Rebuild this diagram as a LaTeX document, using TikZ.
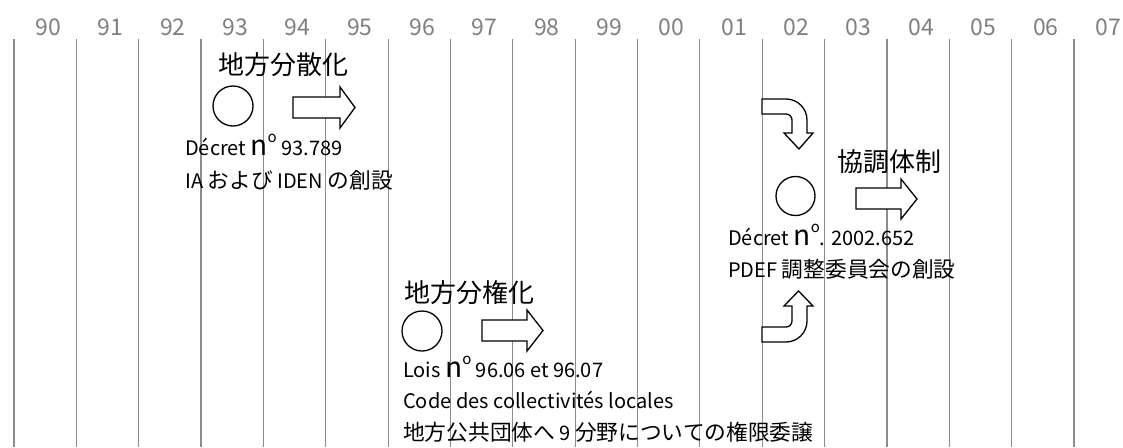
\documentclass[tikz,border=0pt]{standalone}
\usepackage{fontspec}
\setmainfont{Noto Sans CJK JP}
\definecolor{gridgray}{HTML}{8C8C8C}
\definecolor{yeargray}{HTML}{7F7F7F}
\tikzset{
  gridline/.style={draw=gridgray, line width=1.2pt},
  yearlabel/.style={text=yeargray, font=\fontsize{23}{23}\selectfont, anchor=base, inner sep=0pt},
  heading/.style={font=\fontsize{26}{26}\selectfont, anchor=center, inner sep=0pt},
  bodytext/.style={font=\fontsize{20}{20}\selectfont, anchor=base west, inner sep=0pt},
  ring/.style={circle, draw=black, line width=1.3pt, inner sep=0pt},
  blockarrow/.style={draw=black, line width=1.3pt, fill=white, line join=miter},
}
\newcommand{\bign}{{\fontsize{28}{28}\selectfont n}\raisebox{12.5pt}{\fontsize{15}{15}\selectfont o}}
\newcommand{\jp}[1]{{\fontsize{21.7}{21.7}\selectfont #1}}
\begin{document}
\begin{tikzpicture}[x=1pt,y=-1pt]
\useasboundingbox (0,0) rectangle (1123,447);
% grid lines and year labels
\foreach \k in {0,...,17} {
  \coordinate (top\k) at ({14+62.35*\k},39);
  \coordinate (bot\k) at ({14+62.35*\k},447);
  \draw[gridline] (top\k) -- (bot\k);
}
\foreach \lab [count=\k from 0] in {90,91,92,93,94,95,96,97,98,99,00,01,02,03,04,05,06,07} {
  \node[yearlabel] (y\k) at ({14+62.35*(\k+0.5)+3},35) {\lab};
}
% section 1
\node[heading] (h1) at (283,65) {地方分散化};
\node[ring, minimum size=40pt] (c1) at (233,106) {};
\draw[blockarrow] (293,97) -- (340,97) -- (340,87) -- (355,107.5) -- (340,128) -- (340,118) -- (293,118) -- cycle;
\node[bodytext] (t1a) at (185,155) {Décret \bign\ 93.789};
\node[bodytext] (t1b) at (185,188) {IA \jp{および} IDEN \jp{の創設}};
% section 2
\draw[blockarrow] (762,99) -- (786,99) arc[start angle=-90, end angle=0, radius=21] -- (807,133) -- (813,133) -- (799,149) -- (784,133) -- (792,133) -- (792,120) arc[start angle=0, end angle=-90, radius=6] -- (762,114) -- cycle;
\node[heading] (h2) at (889.5,161.5) {協調体制};
\node[ring, minimum size=39pt] (c2) at (795.5,196) {};
\draw[blockarrow] (856,188) -- (901,188) -- (901,179) -- (917,199) -- (901,219) -- (901,209) -- (856,209) -- cycle;
\node[bodytext] (t2a) at (728,245) {Décret \bign. 2002.652};
\node[bodytext] (t2b) at (728,277) {PDEF \jp{調整委員会の創設}};
\draw[blockarrow] (762,342) -- (786,342) arc[start angle=90, end angle=0, radius=21] -- (807,306) -- (813,306) -- (798.5,291) -- (784,306) -- (792,306) -- (792,321) arc[start angle=0, end angle=90, radius=6] -- (762,327) -- cycle;
% section 3
\node[heading] (h3) at (469.5,292.5) {地方分権化};
\node[ring, minimum size=40pt] (c3) at (422,331) {};
\draw[blockarrow] (482,320) -- (527,320) -- (527,310) -- (543,330.5) -- (527,351) -- (527,341) -- (482,341) -- cycle;
\node[bodytext] (t3a) at (403,377) {Lois \bign\ 96.06 et 96.07};
\node[bodytext] (t3b) at (403,408) {Code des collectivités locales};
\node[bodytext] (t3c) at (403,440) {\jp{地方公共団体へ} 9 \jp{分野についての権限委譲}};
\end{tikzpicture}
\end{document}
